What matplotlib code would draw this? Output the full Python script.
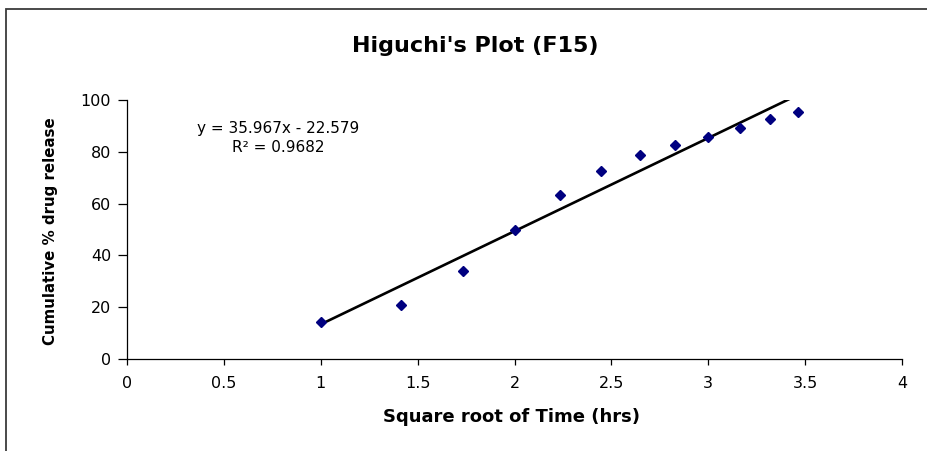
import matplotlib
matplotlib.use("Agg")
import matplotlib.pyplot as plt
from matplotlib.patches import Rectangle
import numpy as np

plt.rcParams['font.family'] = ['DejaVu Sans']

# Data
sqrt_time = [1.0, 1.414, 1.732, 2.0, 2.236, 2.449, 2.646, 2.828, 3.0, 3.162, 3.317, 3.464]
cum_release = [14.2, 20.7, 33.8, 49.7, 63.3, 72.4, 78.6, 82.7, 85.8, 89.0, 92.7, 95.2]
slope = 35.967
intercept = -22.579
r_squared = 0.9682
x_ticks = [0, 0.5, 1, 1.5, 2, 2.5, 3, 3.5, 4]
x_tick_labels = ['0', '0.5', '1', '1.5', '2', '2.5', '3', '3.5', '4']
y_ticks = [0, 20, 40, 60, 80, 100]

W, H = 928, 451
fig = plt.figure(figsize=(W / 100, H / 100), dpi=100)
ax = fig.add_axes([127 / W, (H - 359) / H, (902 - 127) / W, (359 - 100) / H])

# chart area border (extends past right and bottom edges)
fig.patches.append(Rectangle((6 / W, -0.1), 1.2, (H - 9) / H + 0.1,
                             transform=fig.transFigure, fill=False,
                             edgecolor='#3a3a3a', linewidth=1.3))

ax.plot(sqrt_time, cum_release, linestyle='none', marker='D', markersize=5.5,
        color='#000080', zorder=3)
x_fit = np.array([min(sqrt_time), max(sqrt_time)])
ax.plot(x_fit, slope * x_fit + intercept, color='black', linewidth=1.9, zorder=2)

ax.set_xlim(0, 4)
ax.set_ylim(0, 100)
ax.set_xticks(x_ticks)
ax.set_xticklabels(x_tick_labels)
ax.set_yticks(y_ticks)
for s in ['top', 'right']:
    ax.spines[s].set_visible(False)
for s in ['left', 'bottom']:
    ax.spines[s].set_linewidth(0.9)
    ax.spines[s].set_color('black')
ax.tick_params(axis='x', direction='out', length=4, width=0.9, labelsize=11.5, pad=8.5)
ax.tick_params(axis='y', direction='out', length=6.5, width=0.9, labelsize=11.5, pad=5)

ax.set_xlabel('Square root of Time (hrs)', fontsize=13, fontweight='bold', va='center')
ax.xaxis.set_label_coords(512 / W, 1 - 417 / H, transform=fig.transFigure)
ax.set_ylabel('Cumulative % drug release', fontsize=10.8, fontweight='bold', va='center')
ax.yaxis.set_label_coords(51 / W, 1 - 231 / H, transform=fig.transFigure)

fig.text(475 / W, 1 - 46 / H, "Higuchi's Plot (F15)", fontsize=16, fontweight='bold',
         ha='center', va='center')
fig.text(278 / W, 1 - 128 / H, f"y = {slope}x - {abs(intercept)}", fontsize=11,
         ha='center', va='center')
fig.text(278 / W, 1 - 147 / H, f"R² = {r_squared}", fontsize=11,
         ha='center', va='center')

fig.savefig('out.png', dpi=100)
